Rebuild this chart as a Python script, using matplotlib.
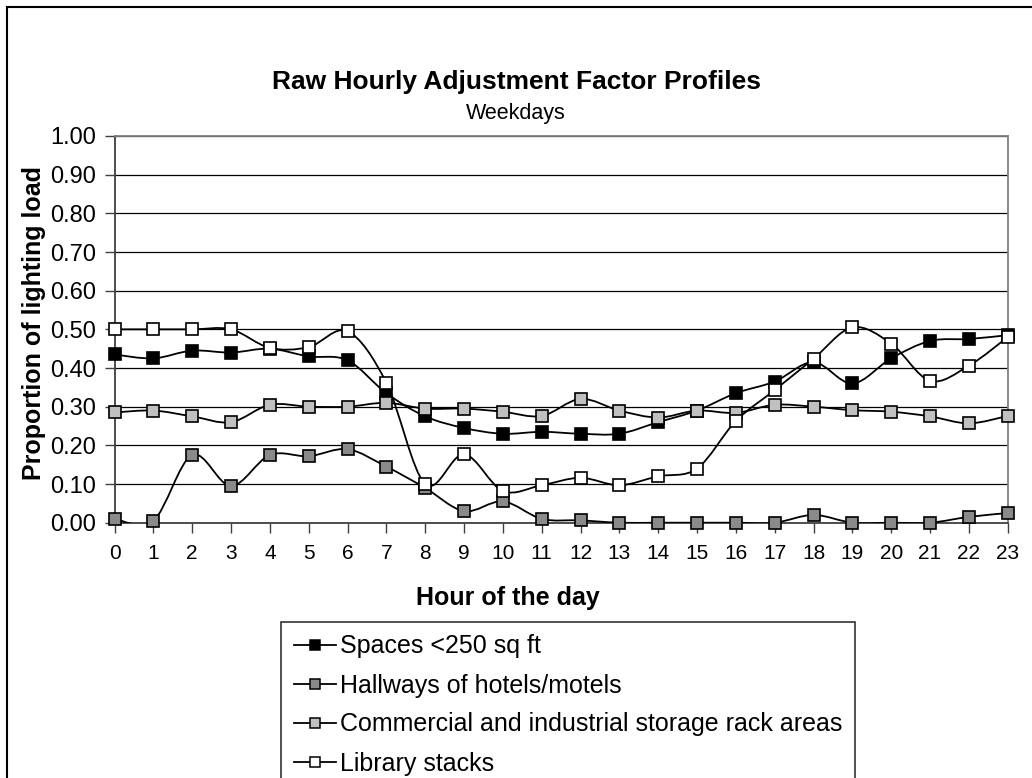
import numpy as np
import matplotlib
matplotlib.use('Agg')
import matplotlib.pyplot as plt
from matplotlib.path import Path
from matplotlib.patches import PathPatch, Rectangle
from matplotlib.lines import Line2D

plt.rcParams['font.family'] = ['Liberation Sans', 'DejaVu Sans']

hours = list(range(24))
spaces = [0.435, 0.425, 0.445, 0.44, 0.45, 0.43, 0.42, 0.335, 0.275, 0.245, 0.23, 0.235,
          0.23, 0.23, 0.26, 0.29, 0.335, 0.365, 0.415, 0.36, 0.425, 0.47, 0.475, 0.485]
hallways = [0.01, 0.005, 0.175, 0.095, 0.175, 0.172, 0.19, 0.145, 0.09, 0.03, 0.055, 0.01,
            0.006, 0.0, 0.0, 0.0, 0.0, 0.0, 0.02, 0.0, 0.0, 0.0, 0.015, 0.025]
storage = [0.285, 0.29, 0.275, 0.26, 0.305, 0.30, 0.30, 0.31, 0.295, 0.295, 0.287, 0.276,
           0.32, 0.29, 0.272, 0.29, 0.284, 0.305, 0.30, 0.291, 0.287, 0.275, 0.257, 0.276]
library = [0.50, 0.50, 0.50, 0.50, 0.452, 0.454, 0.495, 0.362, 0.10, 0.177, 0.082, 0.097,
           0.116, 0.097, 0.12, 0.14, 0.263, 0.343, 0.424, 0.505, 0.463, 0.367, 0.406, 0.48]

names = ['Spaces <250 sq ft', 'Hallways of hotels/motels',
         'Commercial and industrial storage rack areas', 'Library stacks']
fills = ['black', '#8a8a8a', '#c0c0c0', 'white']


def smooth_path(x, y):
    # excel style smoothed line: bezier segments with catmull-rom control points
    pts = np.column_stack([x, y]).astype(float)
    n = len(pts)
    verts = [pts[0]]
    codes = [Path.MOVETO]
    for i in range(n - 1):
        p0 = pts[i - 1] if i > 0 else pts[i]
        p1 = pts[i]
        p2 = pts[i + 1]
        p3 = pts[i + 2] if i + 2 < n else pts[i + 1]
        verts += [p1 + (p2 - p0) / 6, p2 - (p3 - p1) / 6, p2]
        codes += [Path.CURVE4] * 3
    return Path(verts, codes)


fig = plt.figure(figsize=(10.32, 7.78), dpi=100)
fig.patches.append(Rectangle((7 / 1032, -0.1), 1.2, 1 - 7 / 778 + 0.1, transform=fig.transFigure,
                             fill=False, edgecolor='black', linewidth=1.5))

ax = fig.add_axes([114.5 / 1032, 1 - 522.7 / 778, (1007.7 - 114.5) / 1032, (522.7 - 136) / 778])

for vals, fc, name in zip([spaces, hallways, storage, library], fills, names):
    ax.add_patch(PathPatch(smooth_path(hours, vals), facecolor='none', edgecolor='black',
                           linewidth=1.3, zorder=3))
    ax.plot(hours, vals, linestyle='none', marker='s', markersize=8.5, markerfacecolor=fc,
            markeredgecolor='black', markeredgewidth=1.2, zorder=4, clip_on=False)

ax.set_xlim(0, 23)
ax.set_ylim(0, 1)
ax.set_xticks(hours)
ax.set_yticks(np.arange(0, 1.01, 0.1))
ax.yaxis.set_major_formatter(matplotlib.ticker.FormatStrFormatter('%.2f'))
ax.tick_params(axis='both', length=7, width=1, color='#404040')
ax.tick_params(axis='x', labelsize=15, pad=8)
ax.tick_params(axis='y', labelsize=17, pad=6)
ax.grid(axis='y', color='black', linewidth=0.9)
ax.set_axisbelow(True)
for side in ['left', 'bottom']:
    ax.spines[side].set_color('#404040')
    ax.spines[side].set_linewidth(1.3)
for side in ['top', 'right']:
    ax.spines[side].set_color('#808080')
    ax.spines[side].set_linewidth(1.3)

fig.text(516 / 1032, 1 - 82 / 778, 'Raw Hourly Adjustment Factor Profiles', ha='center', va='center',
         fontsize=19, fontweight='bold')
fig.text(516 / 1032, 1 - 113 / 778, 'Weekdays', ha='center', va='center', fontsize=15.5)
fig.text(34 / 1032, 1 - 323 / 778, 'Proportion of lighting load', ha='center', va='center',
         rotation=90, fontsize=18, fontweight='bold')
fig.text(508 / 1032, 1 - 598 / 778, 'Hour of the day', ha='center', va='center',
         fontsize=18, fontweight='bold')

handles = [Line2D([], [], color='black', linewidth=1.3, marker='s', markersize=7,
                  markerfacecolor=fc, markeredgecolor='black', markeredgewidth=1.1) for fc in fills]
leg = fig.legend(handles, names, loc='upper left', bbox_to_anchor=(281 / 1032, 1 - 622 / 778),
                 fontsize=18, frameon=True, fancybox=False, edgecolor='black', handlelength=1.7,
                 handletextpad=0.16, labelspacing=0.6, borderpad=0.5, borderaxespad=0)
leg.get_frame().set_linewidth(1.2)

fig.savefig('out.png', dpi=100)
